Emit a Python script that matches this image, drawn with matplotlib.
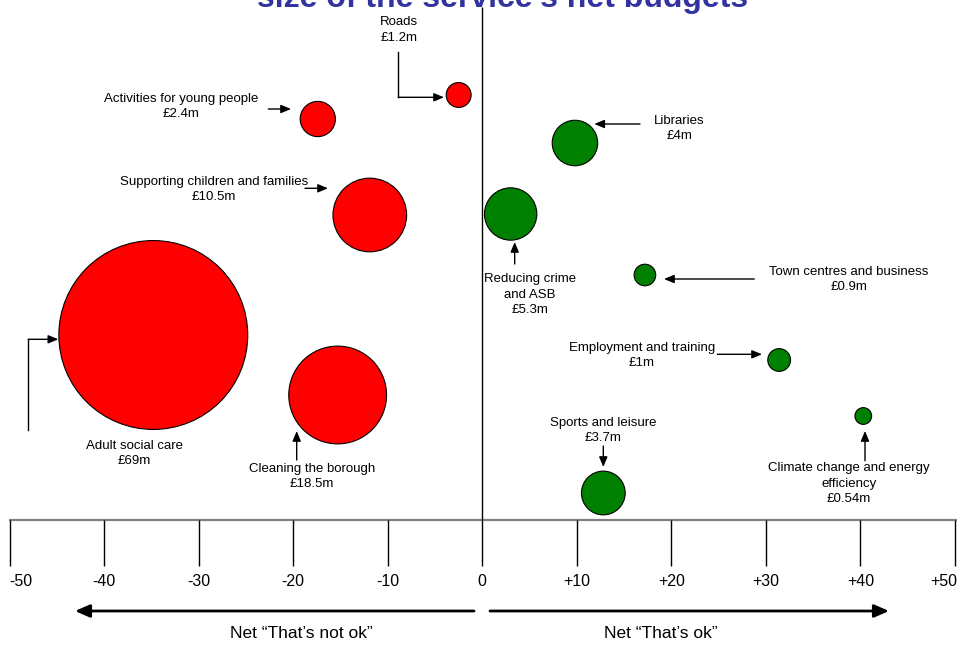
import matplotlib
matplotlib.use("Agg")
import matplotlib.pyplot as plt

plt.rcParams['font.family'] = ['Liberation Sans', 'DejaVu Sans']

# --- data -------------------------------------------------------------
services = [
    "Adult social care",
    "Cleaning the borough",
    "Supporting children and families",
    "Activities for young people",
    "Roads",
    "Libraries",
    "Reducing crime\nand ASB",
    "Town centres and business",
    "Employment and training",
    "Climate change and energy\nefficiency",
    "Sports and leisure",
]
net_score = [-34.8, -15.3, -11.9, -17.4, -2.5, 9.8, 3.0, 17.2, 31.4, 40.3, 12.8]
row_pos = [335, 395, 215, 119, 95, 143, 214, 275, 360, 416, 493]
budget_m = [69, 18.5, 10.5, 2.4, 1.2, 4, 5.3, 0.9, 1, 0.54, 3.7]

axis_ticks = [-50, -40, -30, -20, -10, 0, 10, 20, 30, 40, 50]
tick_labels = ["-50", "-40", "-30", "-20", "-10", "0",
               "+10", "+20", "+30", "+40", "+50"]

# --- layout (figure pixels) ------------------------------------------
W, H, DPI = 957, 648, 100
PX_PER_UNIT = 9.454          # horizontal pixels per score point
ZERO_PX = 482.3              # pixel column of score 0
AXIS_Y = 520                 # baseline of the score scale
RADIUS_K = 11.37             # bubble radius in px = K * sqrt(budget)

label_pos = {
    "Adult social care": (134.2, 453.7),
    "Cleaning the borough": (312.2, 476.3),
    "Supporting children and families": (214, 189.2),
    "Activities for young people": (181.3, 106.3),
    "Roads": (399, 30),
    "Libraries": (679.2, 128.7),
    "Reducing crime\nand ASB": (530, 294.7),
    "Town centres and business": (848.7, 279.7),
    "Employment and training": (641.7, 355.3),
    "Climate change and energy\nefficiency": (849.2, 483.5),
    "Sports and leisure": (603.3, 430.7),
}
pointer_paths = {
    "Adult social care": [(28.3, 430), (28.3, 339.3), (58.3, 339.3)],
    "Cleaning the borough": [(296.7, 460), (296.7, 431)],
    "Supporting children and families": [(305, 188.3), (328, 188.3)],
    "Activities for young people": [(268.3, 109), (291, 109)],
    "Roads": [(398.3, 52), (398.3, 97.3), (444, 97.3)],
    "Libraries": [(640, 124), (594.3, 124)],
    "Reducing crime\nand ASB": [(514.7, 264), (514.7, 242)],
    "Town centres and business": [(754.3, 279), (664, 279)],
    "Employment and training": [(717.3, 354.3), (762, 354.3)],
    "Climate change and energy\nefficiency": [(865, 460.7), (865, 431)],
    "Sports and leisure": [(603.3, 446), (603.3, 467)],
}

fig = plt.figure(figsize=(W / DPI, H / DPI), dpi=DPI)
fig.patch.set_facecolor("white")

# main axes: x in score units, y in row units (pixels from the top)
ax = fig.add_axes([0, 0, 1, 1])
ax.set_xlim(-ZERO_PX / PX_PER_UNIT, (W - ZERO_PX) / PX_PER_UNIT)
ax.set_ylim(H, 0)
ax.axis("off")

# overlay for callouts, in plain pixel coordinates
lay = fig.add_axes([0, 0, 1, 1])
lay.set_xlim(0, W)
lay.set_ylim(H, 0)
lay.axis("off")
lay.patch.set_alpha(0)

# score scale
ax.plot([ax.get_xlim()[0] + 9.3 / PX_PER_UNIT, ax.get_xlim()[1]], [AXIS_Y, AXIS_Y],
        color="#808080", lw=1.6, zorder=1, solid_capstyle="butt")
ax.vlines(axis_ticks, AXIS_Y, 566, color="black", lw=1.0, zorder=2)
ax.vlines(0, 7, AXIS_Y, color="black", lw=1.0, zorder=2)
for t, lab in zip(axis_ticks, tick_labels):
    if t == axis_ticks[0]:
        ax.text(t, 582, lab, ha="left", va="center", fontsize=11.5)
    elif t == axis_ticks[-1]:
        ax.text(t + 0.25, 582, lab, ha="right", va="center", fontsize=11.5)
    else:
        ax.text(t, 582, lab, ha="center", va="center", fontsize=11.5)

# bubbles: area proportional to net budget
sizes = [(2 * RADIUS_K * b ** 0.5 * 72 / DPI) ** 2 for b in budget_m]
colors = ["#FF0000" if s < 0 else "#008000" for s in net_score]
ax.scatter(net_score, row_pos, s=sizes, c=colors, edgecolors="black",
           linewidths=0.8, zorder=3)

# callout labels and pointers
small_head = dict(arrowstyle="-|>,head_length=0.6,head_width=0.25",
                  color="black", lw=1.0, mutation_scale=10,
                  shrinkA=0, shrinkB=0)
for name, b in zip(services, budget_m):
    lx, ly = label_pos[name]
    lay.text(lx, ly, f"{name}\n£{b:g}m", ha="center", va="center",
             fontsize=9.5, linespacing=1.37, zorder=5)
    path = pointer_paths[name]
    if len(path) > 2:
        xs, ys = zip(*path[:-1])
        lay.plot(xs, ys, color="black", lw=1.0, zorder=5)
    lay.annotate("", xy=path[-1], xytext=path[-2], arrowprops=small_head,
                 zorder=5)

# direction arrows under the scale
big_head = dict(arrowstyle="-|>,head_length=0.8,head_width=0.35",
                color="black", lw=2.0, mutation_scale=11,
                shrinkA=0, shrinkB=0)
lay.annotate("", xy=(75, 611), xytext=(474, 611), arrowprops=big_head)
lay.annotate("", xy=(889, 611), xytext=(490, 611), arrowprops=big_head)
lay.text(301, 634, "Net \u201cThat\u2019s not ok\u201d", ha="center",
         va="center", fontsize=12.5)
lay.text(661, 634, "Net \u201cThat\u2019s ok\u201d", ha="center",
         va="center", fontsize=12.5)

# heading (runs off the top edge)
fig.text(502.5 / W, 1 - 7 / H, "size of the service's net budgets",
         ha="center", va="baseline", fontsize=23, fontweight="bold",
         color="#3333A0")

fig.savefig("out.png", dpi=DPI, facecolor="white")
